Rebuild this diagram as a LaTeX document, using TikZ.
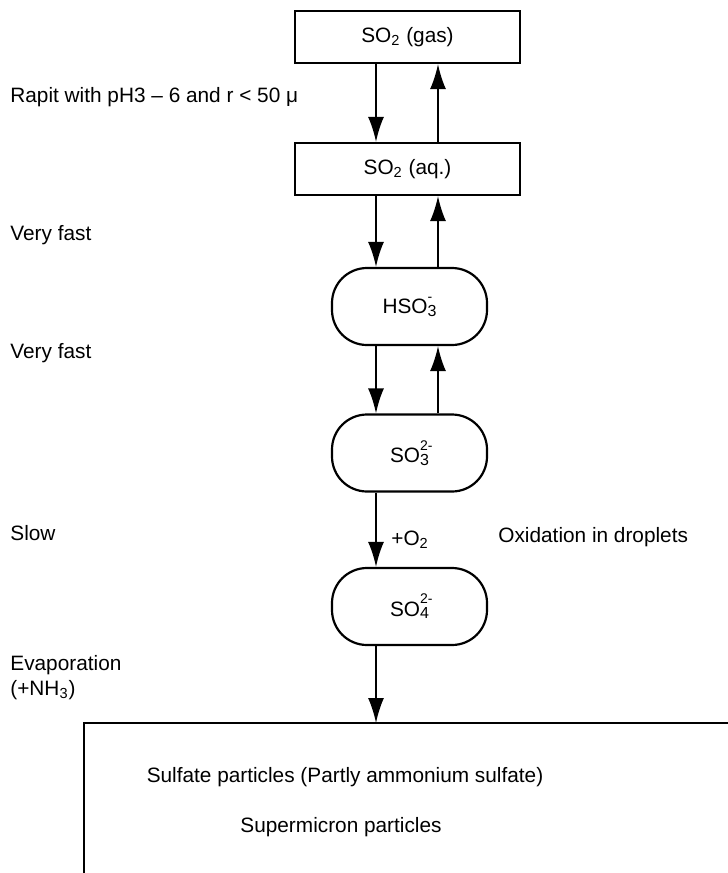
\documentclass[tikz,border=0pt]{standalone}
\usepackage{fontspec}
\setmainfont{Liberation Sans}
\usetikzlibrary{arrows.meta}

% charge over index, e.g. SO_4^{2-}
\newcommand{\ionidx}[2]{\rlap{\raisebox{6.3pt}{\fontsize{7}{7}\selectfont #2}}\raisebox{-1.2pt}{\fontsize{8}{8}\selectfont #1}}

\begin{document}
\begin{tikzpicture}[x=0.5pt, y=-0.5pt,
  font=\fontsize{10.4}{12.4}\selectfont,
  box/.style={draw, line width=1.1pt, minimum width=112.5pt, minimum height=26pt},
  ionbox/.style={draw, line width=1.1pt, rounded corners=17.5pt, minimum width=77.5pt, minimum height=38.5pt},
  flow/.style={line width=0.9pt, -{Latex[length=12.5pt,width=8pt]}},
  note/.style={anchor=west, inner sep=0pt}]
\useasboundingbox (0,0) rectangle (728,873);

% species
\node[box] (gas) at (407.5,37) {SO\textsubscript{2} (gas)};
\node[box] (aq) at (407.5,169) {SO\textsubscript{2} (aq.)};
\node[ionbox] (hso) at (409.5,306.5) {HSO\ionidx{3}{-}};
\node[ionbox] (so3) at (409.5,453) {SO\ionidx{3}{2-}};
\node[ionbox] (so4) at (409.5,606.5) {SO\ionidx{4}{2-}};

% particle box (open at right and bottom)
\draw[line width=1.1pt] (84,873) -- (84,723) -- (728,723);
\coordinate (sink) at (376,723);
\node (sulfate) at (345,777) {Sulfate particles (Partly ammonium sulfate)};
\node (supermicron) at (341,827) {Supermicron particles};

% reaction arrows
\coordinate (down) at (376,0);
\coordinate (up) at (438,0);
\draw[flow] (gas.south -| down) -- (aq.north -| down);
\draw[flow] (aq.north -| up) -- (gas.south -| up);
\draw[flow] (aq.south -| down) -- (hso.north -| down);
\draw[flow] (hso.north -| up) -- (aq.south -| up);
\draw[flow] (hso.south -| down) -- (so3.north -| down);
\draw[flow] (so3.north -| up) -- (hso.south -| up);
\draw[flow] (so3.south -| down) -- (so4.north -| down);
\draw[flow] (so4.south -| down) -- (sink);

% rates
\node[note] (rapid) at (10,97) {Rapit with pH3 -- 6 and r < 50 μ};
\node[note] (fast1) at (10,235) {Very fast};
\node[note] (fast2) at (10,353) {Very fast};
\node[note] (slow) at (10,533) {Slow};
\node[note] (evap) at (10,665) {Evaporation};
\node[note] (nh3) at (10,690) {(+NH\textsubscript{3})};
\node[note] (o2) at (391,540) {+O\textsubscript{2}};
\node[note] (oxid) at (498,537) {Oxidation in droplets};
\end{tikzpicture}
\end{document}
